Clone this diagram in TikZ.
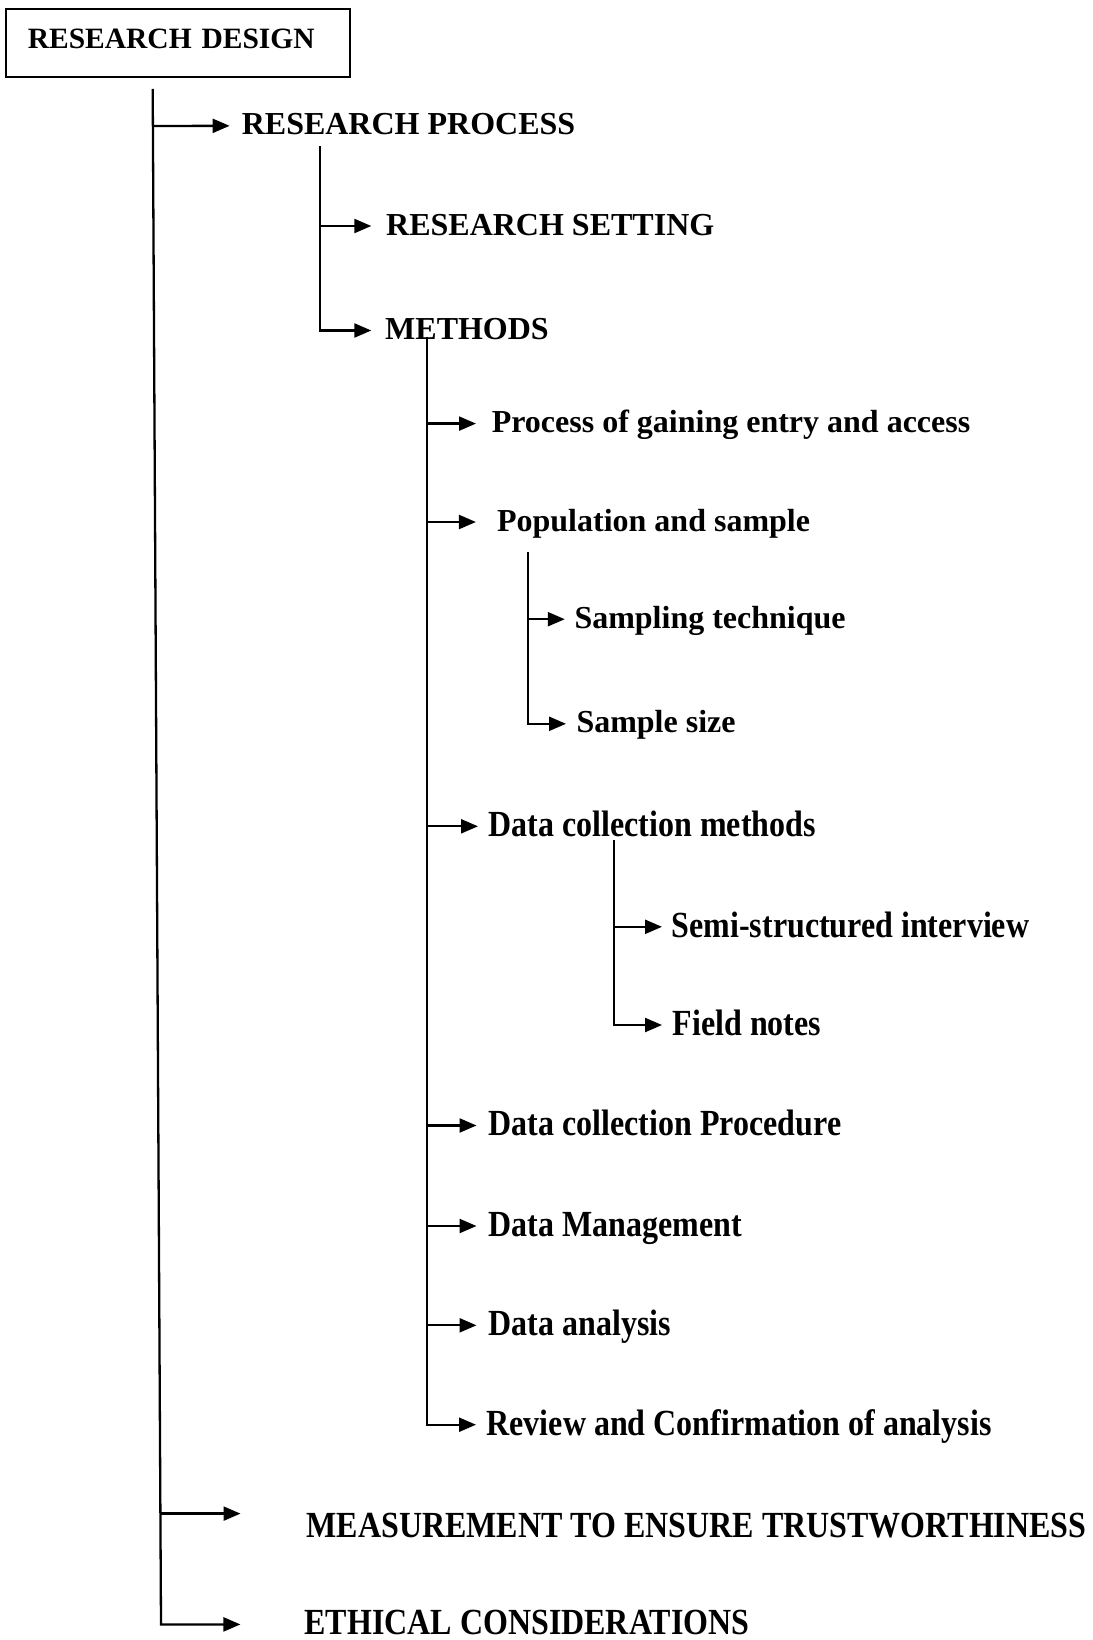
\documentclass[tikz,border=0pt]{standalone}
\usepackage{fontspec}
\setmainfont{Liberation Serif}
\usetikzlibrary{arrows.meta,calc}

\begin{document}
\begin{tikzpicture}[x=1pt,y=-1pt,
  lbl/.style={anchor=west,inner sep=0pt,text height=23pt,text depth=5pt,font=\fontsize{32}{38}\selectfont\bfseries},
  tall/.style={lbl,yscale=1.15,transform shape},
  stem/.style={line width=2.3pt},
  branch/.style={stem,-{Triangle[length=17pt,width=14pt]},shorten >=12pt}]
\useasboundingbox (0,0) rectangle (1092,1640);
\node[draw,line width=1.6pt,anchor=north west,text width=300pt,inner xsep=22pt,inner ysep=0pt,minimum height=68pt,
      text height=21pt,text depth=10pt,font=\fontsize{29.5}{34}\selectfont\bfseries] (design) at (5,8) {RESEARCH DESIGN};
\node[lbl] (process) at (241.6,125.5) {RESEARCH PROCESS};
\node[lbl] (setting) at (386,226) {RESEARCH SETTING};
\node[lbl] (methods) at (385,330.5) {METHODS};
\node[lbl] (entry) at (491.6,423.6) {Process of gaining entry and access};
\node[lbl] (population) at (496.9,522) {Population and sample};
\node[lbl] (technique) at (574.3,619.2) {Sampling technique};
\node[lbl] (size) at (576.3,723.8) {Sample size};
\node[tall] (collection) at (488.5,826.3) {Data collection methods};
\node[tall] (interview) at (671.5,926.8) {Semi-structured interview};
\node[tall] (notes) at (672.6,1025) {Field notes};
\node[tall] (procedure) at (488.5,1125.5) {Data collection Procedure};
\node[tall] (management) at (488.5,1226) {Data Management};
\node[tall] (analysis) at (488.5,1325.3) {Data analysis};
\node[tall] (review) at (486.4,1424.7) {Review and Confirmation of analysis};
\node[tall] (trust) at (306.5,1527) {MEASUREMENT TO ENSURE TRUSTWORTHINESS};
\node[tall] (ethics) at (304.4,1624.4) {ETHICAL CONSIDERATIONS};

\coordinate (d0) at (152.7,89);
\coordinate (d1) at (161,1624.4);
\coordinate (d2) at (160.5,1513.6);
\coordinate (p0) at (320,146.4);
\coordinate (m0) at (426.8,336.8);
\coordinate (s0) at (528.2,552.3);
\coordinate (c0) at (614,840);

\draw[branch,shorten >=64pt] (d0) -- (d1) -- (ethics);
\draw[branch,shorten >=12pt] ($(d0)!(process.west)!(d1)$) -- (process);
\draw[branch,shorten >=66pt] (d2) -- (d2 -| trust.west);
\draw[branch,shorten >=13.7pt] (p0) |- (methods);
\draw[branch,shorten >=14.7pt] (p0 |- setting) -- (setting);
\draw[branch,shorten >=10.4pt] (m0) |- (review);
\draw[branch,shorten >=15.6pt] (m0 |- entry) -- (entry);
\draw[branch,shorten >=21pt] (m0 |- population) -- (population);
\draw[branch,shorten >=10.5pt] (m0 |- collection) -- (collection);
\draw[branch] (m0 |- procedure) -- (procedure);
\draw[branch] (m0 |- management) -- (management);
\draw[branch] (m0 |- analysis) -- (analysis);
\draw[branch,shorten >=10.3pt] (s0) |- (size);
\draw[branch,shorten >=9.5pt] (s0 |- technique) -- (technique);
\draw[branch,shorten >=10.6pt] (c0) |- (notes);
\draw[branch,shorten >=9.5pt] (c0 |- interview) -- (interview);
\end{tikzpicture}
\end{document}
